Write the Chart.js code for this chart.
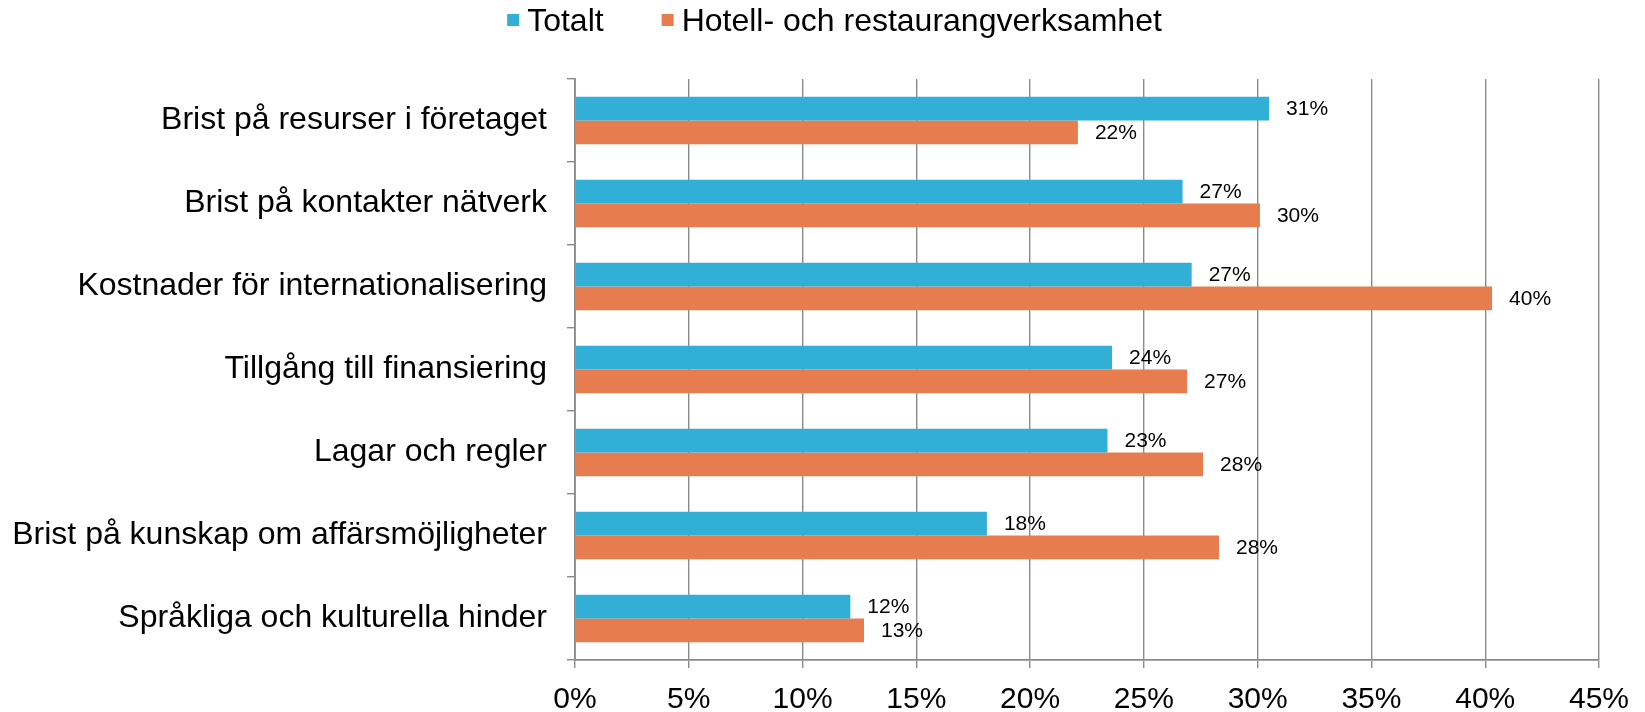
<!DOCTYPE html>
<html>
<head>
<meta charset="utf-8">
<script src="https://cdn.jsdelivr.net/npm/chart.js@4.4.1/dist/chart.umd.min.js"></script>
<style>
  html, body { margin: 0; padding: 0; background: #fff; }
  #wrap { width: 1645px; height: 712px; position: relative; }
</style>
</head>
<body>
<div id="wrap"><canvas id="hinderChart" width="1645" height="712"></canvas></div>
<script>
// Categories, top to bottom
const categories = [
  "Brist på resurser i företaget",
  "Brist på kontakter nätverk",
  "Kostnader för internationalisering",
  "Tillgång till finansiering",
  "Lagar och regler",
  "Brist på kunskap om affärsmöjligheter",
  "Språkliga och kulturella hinder"
];

const seriesNames = ["Totalt", "Hotell- och restaurangverksamhet"];

// Share of companies (%)
const totaltValues = [30.5, 26.7, 27.1, 23.6, 23.4, 18.1, 12.1];
const hotellValues = [22.1, 30.1, 40.3, 26.9, 27.6, 28.3, 12.7];

const xTicks = [0, 5, 10, 15, 20, 25, 30, 35, 40, 45];

const FONT = "'Liberation Sans', Arial, Helvetica, sans-serif";
const BLUE = "#31afd6";
const ORANGE = "#e77c4f";
const GRID = "#8a8a8a";

// Value labels to the right of each bar
const barLabels = {
  id: "barLabels",
  afterDatasetsDraw(chart) {
    const ctx = chart.ctx;
    ctx.save();
    ctx.font = "21px " + FONT;
    ctx.fillStyle = "#000";
    ctx.textAlign = "left";
    ctx.textBaseline = "middle";
    chart.data.datasets.forEach((ds, i) => {
      chart.getDatasetMeta(i).data.forEach((bar, j) => {
        ctx.fillText(Math.round(ds.data[j]) + "%", bar.x + 17, bar.y + 1);
      });
    });
    ctx.restore();
  }
};

// Legend row at the top
const topLegend = {
  id: "topLegend",
  afterDraw(chart) {
    const ctx = chart.ctx;
    ctx.save();
    ctx.font = "32px " + FONT;
    ctx.textBaseline = "middle";
    const box = 12, gap = 8, spacing = 58;
    const items = chart.data.datasets.map(ds => ({
      text: ds.label,
      color: ds.backgroundColor,
      w: ctx.measureText(ds.label).width
    }));
    let total = 0;
    items.forEach((it, i) => { total += box + gap + it.w + (i ? spacing : 0); });
    let x = chart.width / 2 + 12 - total / 2;
    const y = 20;
    items.forEach(it => {
      ctx.fillStyle = it.color;
      ctx.fillRect(x, y - box / 2, box, box);
      ctx.fillStyle = "#000";
      ctx.fillText(it.text, x + box + gap, y + 2);
      x += box + gap + it.w + spacing;
    });
    ctx.restore();
  }
};

new Chart(document.getElementById("hinderChart"), {
  type: "bar",
  data: {
    labels: categories,
    datasets: [
      { label: seriesNames[0], data: totaltValues, backgroundColor: BLUE },
      { label: seriesNames[1], data: hotellValues, backgroundColor: ORANGE }
    ]
  },
  options: {
    indexAxis: "y",
    responsive: false,
    animation: false,
    categoryPercentage: 0.57,
    barPercentage: 1.0,
    layout: { padding: { top: 79, right: 46, left: 0, bottom: 0 } },
    plugins: {
      legend: { display: false },
      tooltip: { enabled: false }
    },
    scales: {
      x: {
        min: 0,
        max: 45,
        afterBuildTicks(scale) {
          scale.ticks = xTicks.map(v => ({ value: v }));
        },
        afterFit(scale) { scale.height = 52; },
        grid: { color: GRID, lineWidth: 1.4, tickLength: 8, tickColor: GRID },
        border: { color: GRID, width: 1.8 },
        ticks: {
          color: "#000",
          font: { family: FONT, size: 30 },
          padding: 14,
          maxRotation: 0,
          callback: v => v + "%"
        }
      },
      y: {
        afterFit(scale) { scale.width = 575; },
        grid: { drawOnChartArea: false, tickLength: 8, color: GRID, lineWidth: 1.4 },
        border: { color: GRID, width: 1.8 },
        ticks: {
          color: "#000",
          font: { family: FONT, size: 32 },
          padding: 20
        }
      }
    }
  },
  plugins: [barLabels, topLegend]
});
</script>
</body>
</html>
